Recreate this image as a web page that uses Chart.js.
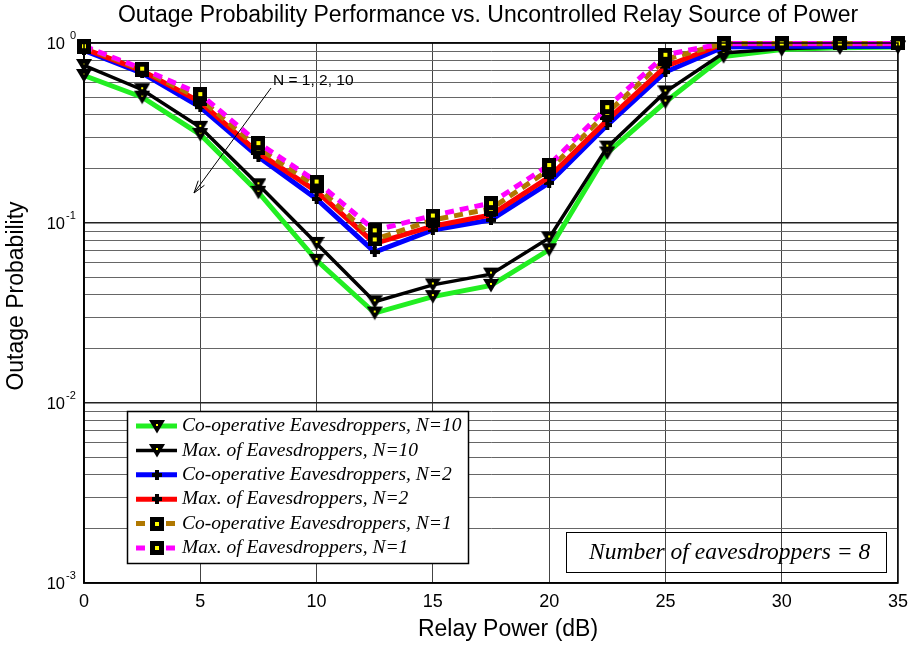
<!DOCTYPE html>
<html>
<head>
<meta charset="utf-8">
<script src="https://cdn.jsdelivr.net/npm/chart.js@4.4.1/dist/chart.umd.min.js"></script>
<style>
  html, body { margin: 0; padding: 0; background: #fff; }
</style>
</head>
<body>
<canvas id="outage" width="916" height="645"></canvas>
<script>
// relay power sweep (dB) and outage probability per scheme
const relayPowerDb = [0, 2.5, 5, 7.5, 10, 12.5, 15, 17.5, 20, 22.5, 25, 27.5, 30, 32.5, 35];

const coopN10 = [0.66, 0.50, 0.31, 0.148, 0.062, 0.0316, 0.039, 0.045, 0.071, 0.245, 0.47, 0.84, 0.92, 0.94, 0.95];
const maxN10  = [0.75, 0.55, 0.34, 0.163, 0.077, 0.0365, 0.0453, 0.052, 0.0826, 0.264, 0.535, 0.88, 0.93, 0.95, 0.95];
const coopN2  = [0.91, 0.68, 0.44, 0.233, 0.136, 0.069, 0.0914, 0.104, 0.167, 0.35, 0.69, 0.95, 0.96, 0.96, 0.96];
const maxN2   = [0.93, 0.70, 0.47, 0.245, 0.15, 0.077, 0.096, 0.111, 0.18, 0.373, 0.74, 0.99, 0.99, 0.99, 0.99];
const coopN1  = [0.95, 0.71, 0.49, 0.26, 0.16, 0.081, 0.104, 0.12, 0.198, 0.41, 0.81, 0.995, 0.995, 0.995, 0.995];
const maxN1   = [0.96, 0.72, 0.52, 0.278, 0.17, 0.091, 0.11, 0.129, 0.21, 0.44, 0.86, 0.995, 0.995, 0.995, 0.995];

const seriesLabels = [
  'Co-operative Eavesdroppers, N=10',
  'Max. of Eavesdroppers, N=10',
  'Co-operative Eavesdroppers, N=2',
  'Max. of Eavesdroppers, N=2',
  'Co-operative Eavesdroppers, N=1',
  'Max. of Eavesdroppers, N=1'
];

const yDecadeExponents = [0, -1, -2, -3];
const xTickStep = 5;

const chartTitle = 'Outage Probability Performance vs. Uncontrolled Relay Source of Power';
const xTitle = 'Relay Power (dB)';
const yTitle = 'Outage Probability';

const SANS = '"Liberation Sans", Arial, sans-serif';
const SERIF = '"Liberation Serif", "Times New Roman", serif';

// minor + major log grid values, 1e-3 .. 1
const yGridValues = [];
for (let e = -3; e < 0; e++) {
  for (let k = 1; k <= 9; k++) yGridValues.push(Number((k * Math.pow(10, e)).toPrecision(3)));
}
yGridValues.push(1);

function isDecade(v) {
  const l = Math.log10(v);
  return Math.abs(l - Math.round(l)) < 1e-9;
}

// marker bitmaps: black down-triangle / black square with yellow centre / small black plus
function markerCanvas(kind) {
  const c = document.createElement('canvas');
  if (kind === 'tri') {
    c.width = 16; c.height = 15;
  } else if (kind === 'sq') {
    c.width = 14; c.height = 14;
  } else {
    c.width = 10; c.height = 10;
  }
  const g = c.getContext('2d');
  g.fillStyle = '#000';
  if (kind === 'tri') {
    g.beginPath(); g.moveTo(0, 1); g.lineTo(16, 1); g.lineTo(8, 14.5); g.closePath(); g.fill();
    g.fillStyle = '#ffff00'; g.fillRect(7, 5, 2, 2);
  } else if (kind === 'sq') {
    g.fillRect(0, 0, 14, 14);
    g.fillStyle = '#ffff00'; g.fillRect(5, 5, 4, 4);
  } else {
    g.fillRect(3, 0, 4, 10); g.fillRect(0, 3, 10, 4);
  }
  return c;
}
const triMarker = markerCanvas('tri');
const sqMarker = markerCanvas('sq');
const plusMarker = markerCanvas('plus');

function series(label, values, color, width, marker, dash, order) {
  return {
    label,
    data: relayPowerDb.map((x, i) => ({ x, y: values[i] })),
    borderColor: color,
    backgroundColor: color,
    borderWidth: width,
    borderDash: dash,
    pointStyle: marker,
    pointRadius: 7,
    pointHoverRadius: 7,
    tension: 0,
    clip: false,
    order
  };
}

const datasets = [
  series(seriesLabels[0], coopN10, '#22ee22', 5, triMarker, [], 6),
  series(seriesLabels[1], maxN10, '#000000', 3.5, triMarker, [], 5),
  series(seriesLabels[2], coopN2, '#0000ff', 5, plusMarker, [], 4),
  series(seriesLabels[3], maxN2, '#ff0000', 5, plusMarker, [], 3),
  series(seriesLabels[4], coopN1, '#b07800', 5, sqMarker, [9, 6], 2),
  series(seriesLabels[5], maxN1, '#ff00ff', 5, sqMarker, [9, 6], 1)
];

const overlay = {
  id: 'overlay',
  afterDraw(chart) {
    const { ctx, chartArea: a, scales } = chart;
    const ys = scales.y;
    ctx.save();

    // axes box
    ctx.strokeStyle = '#000';
    ctx.lineWidth = 1.5;
    ctx.strokeRect(a.left, a.top, a.right - a.left, a.bottom - a.top);

    // titles
    ctx.fillStyle = '#000';
    ctx.font = '23px ' + SANS;
    ctx.textAlign = 'center';
    ctx.textBaseline = 'middle';
    ctx.fillText(chartTitle, 488, 16);
    ctx.fillText(xTitle, 508, 630);
    ctx.save();
    ctx.translate(17, 296);
    ctx.rotate(-Math.PI / 2);
    ctx.fillText(yTitle, 0, 0);
    ctx.restore();

    // 10^n tick labels
    yDecadeExponents.forEach(e => {
      const py = ys.getPixelForValue(Math.pow(10, e));
      ctx.font = '16.5px ' + SANS;
      ctx.textAlign = 'right';
      ctx.textBaseline = 'middle';
      ctx.fillText('10', 65, py + 1);
      ctx.font = '11px ' + SANS;
      ctx.textAlign = 'left';
      ctx.fillText(e === 0 ? '0' : '-' + Math.abs(e), e === 0 ? 70 : 66, py - 7);
    });

    // annotation arrow
    ctx.font = '15.5px ' + SANS;
    ctx.textAlign = 'left';
    ctx.textBaseline = 'middle';
    ctx.fillText('N = 1, 2, 10', 273, 81);
    const x0 = 271, y0 = 88, x1 = 194, y1 = 193;
    ctx.lineWidth = 1;
    ctx.beginPath(); ctx.moveTo(x0, y0); ctx.lineTo(x1, y1); ctx.stroke();
    const ang = Math.atan2(y1 - y0, x1 - x0);
    ctx.beginPath();
    ctx.moveTo(x1 - 13 * Math.cos(ang - 0.3), y1 - 13 * Math.sin(ang - 0.3));
    ctx.lineTo(x1, y1);
    ctx.lineTo(x1 - 13 * Math.cos(ang + 0.3), y1 - 13 * Math.sin(ang + 0.3));
    ctx.stroke();

    // scenario note
    ctx.strokeRect(566.5, 532.5, 320, 40);
    ctx.font = 'italic 23.5px ' + SERIF;
    ctx.fillText('Number of eavesdroppers = 8', 589, 553);

    // legend
    const lx = 127.5, ly = 411.5, lw = 341, lh = 152;
    ctx.fillStyle = '#fff';
    ctx.fillRect(lx, ly, lw, lh);
    ctx.strokeStyle = '#000';
    ctx.lineWidth = 1.5;
    ctx.strokeRect(lx, ly, lw, lh);
    datasets.forEach((ds, i) => {
      const cy = 426 + i * 24.4;
      ctx.strokeStyle = ds.borderColor;
      ctx.lineWidth = ds.borderWidth;
      ctx.setLineDash(ds.borderDash);
      ctx.beginPath(); ctx.moveTo(136, cy); ctx.lineTo(177, cy); ctx.stroke();
      ctx.setLineDash([]);
      const m = ds.pointStyle;
      ctx.drawImage(m, Math.round(156.5 - m.width / 2), Math.round(cy - m.height / 2));
      ctx.fillStyle = '#000';
      ctx.font = 'italic 19.5px ' + SERIF;
      ctx.textBaseline = 'middle';
      ctx.fillText(ds.label, 182, cy);
    });
    ctx.restore();
  }
};

new Chart(document.getElementById('outage'), {
  type: 'line',
  data: { datasets },
  plugins: [overlay],
  options: {
    responsive: false,
    animation: false,
    devicePixelRatio: 1,
    layout: { padding: { top: 43, right: 13, left: 0, bottom: 0 } },
    plugins: {
      legend: { display: false },
      tooltip: { enabled: false },
      title: { display: false }
    },
    scales: {
      x: {
        type: 'linear',
        min: 0,
        max: 35,
        ticks: { stepSize: xTickStep, color: '#000', font: { family: SANS, size: 18 }, padding: 8, maxRotation: 0 },
        grid: { color: '#444', lineWidth: 1, drawTicks: false },
        border: { color: '#000', width: 1.5 },
        afterFit: s => { s.height = 62; }
      },
      y: {
        type: 'logarithmic',
        min: 0.001,
        max: 1,
        afterBuildTicks: s => {
          s.ticks = yGridValues.map(v => ({ value: v, major: isDecade(v) }));
        },
        ticks: { display: false },
        grid: {
          drawTicks: false,
          color: c => (c.tick && c.tick.major ? '#222' : '#666'),
          lineWidth: c => (c.tick && c.tick.major ? 1.5 : 1)
        },
        border: { color: '#000', width: 1.5 },
        afterFit: s => { s.width = 84; }
      }
    }
  }
});
</script>
</body>
</html>
